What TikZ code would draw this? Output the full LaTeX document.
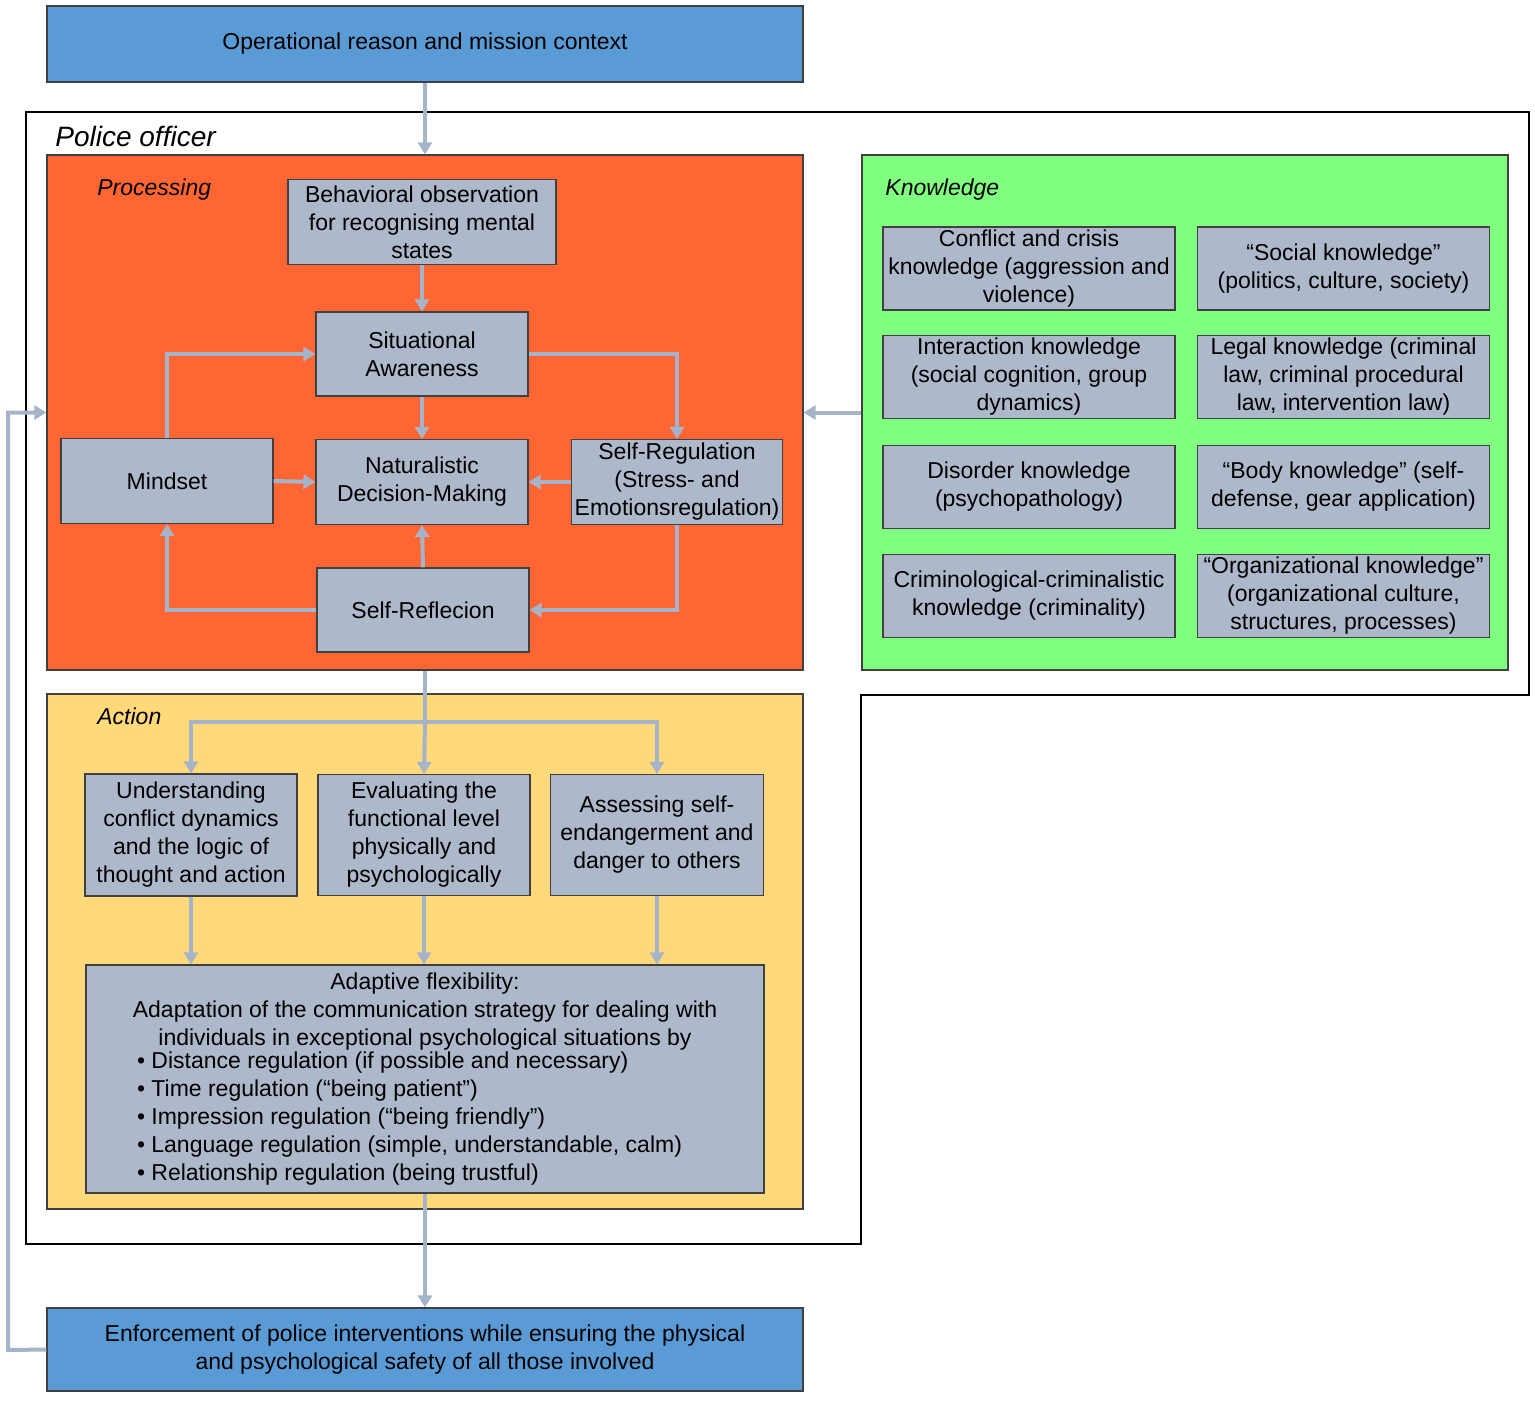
\documentclass[tikz,border=0pt]{standalone}
\usepackage{fontspec}
\setmainfont{Liberation Sans}
\usetikzlibrary{arrows.meta}
\definecolor{bluebox}{HTML}{5B9BD5}
\definecolor{procbg}{HTML}{FF6633}
\definecolor{knowbg}{HTML}{80FF80}
\definecolor{actbg}{HTML}{FFD97A}
\definecolor{greybox}{HTML}{ADB9CA}
\definecolor{arrowc}{HTML}{A6B4C9}
\definecolor{edge}{HTML}{404040}
\begin{document}
\begin{tikzpicture}[x=0.5pt,y=-0.5pt,
  every node/.style={font=\fontsize{11.5}{14}\selectfont, align=center, inner sep=0pt},
  box/.style={draw=edge, line width=0.6pt, fill=greybox},
  area/.style={draw=edge, line width=0.6pt},
  lab/.style={anchor=west, font=\fontsize{11.5}{14}\selectfont\itshape},
  arr/.style={draw=arrowc, line width=2pt, -{Triangle[length=6pt,width=7pt]}},
  ln/.style={draw=arrowc, line width=2pt}]
\useasboundingbox (0,0) rectangle (1535,1401);
% outer officer frame
\draw[line width=0.9pt] (26,112) -- (1529,112) -- (1529,695) -- (861,695) -- (861,1244) -- (26,1244) -- cycle;
\node[anchor=west, font=\fontsize{14}{16}\selectfont\itshape] (po) at (55,136) {Police officer};
% blue boxes
\node[area, fill=bluebox, minimum width=378pt, minimum height=38pt] (top) at (425,44) {Operational reason and mission context};
\node[area, fill=bluebox, minimum width=378pt, minimum height=41.5pt] (bot) at (425,1349.5) {Enforcement of police interventions while ensuring the physical\\and psychological safety of all those involved};
% areas
\node[area, fill=procbg, minimum width=378pt, minimum height=257.5pt] (proc) at (425,412.5) {};
\node[area, fill=knowbg, minimum width=323pt, minimum height=257.5pt] (know) at (1185,412.5) {};
\node[area, fill=actbg, minimum width=378pt, minimum height=257.5pt] (act) at (425,951.5) {};
\node[lab] (lproc) at (97,190) {Processing};
\node[lab] (lknow) at (885,190) {Knowledge};
\node[lab] (lact) at (97,716) {Action};
% processing
\node[box, minimum width=134pt, minimum height=42.5pt] (beh) at (422,222) {Behavioral observation\\for recognising mental\\states};
\node[box, minimum width=106pt, minimum height=42pt] (sit) at (422,354) {Situational\\Awareness};
\node[box, minimum width=106pt, minimum height=42.5pt] (mind) at (167,481) {Mindset};
\node[box, minimum width=106pt, minimum height=42.5pt] (ndm) at (422,482) {Naturalistic\\Decision-Making};
\node[box, minimum width=105.5pt, minimum height=42.5pt] (sreg) at (677,482) {Self-Regulation\\(Stress- and\\Emotionsregulation)};
\node[box, minimum width=106pt, minimum height=42pt] (sref) at (423,610) {Self-Reflecion};
% knowledge
\tikzset{kb/.style={box, minimum width=146pt, minimum height=41.5pt}}
\node[kb] (k1) at (1029,268.5) {Conflict and crisis\\knowledge (aggression and\\violence)};
\node[kb] (k2) at (1343.5,268.5) {“Social knowledge”\\(politics, culture, society)};
\node[kb] (k3) at (1029,377) {Interaction knowledge\\(social cognition, group\\dynamics)};
\node[kb] (k4) at (1343.5,377) {Legal knowledge (criminal\\law, criminal procedural\\law, intervention law)};
\node[kb] (k5) at (1029,487) {Disorder knowledge\\(psychopathology)};
\node[kb] (k6) at (1343.5,487) {“Body knowledge” (self-\\defense, gear application)};
\node[kb] (k7) at (1029,596) {Criminological-criminalistic\\knowledge (criminality)};
\node[kb] (k8) at (1343.5,596) {“Organizational knowledge”\\(organizational culture,\\structures, processes)};
% action
\node[box, minimum width=106pt, minimum height=61pt] (a1) at (191,835) {Understanding\\conflict dynamics\\and the logic of\\thought and action};
\node[box, minimum width=106pt, minimum height=60.5pt] (a2) at (424,835) {Evaluating the\\functional level\\physically and\\psychologically};
\node[box, minimum width=106.5pt, minimum height=60.5pt] (a3) at (657,835) {Assessing self-\\endangerment and\\danger to others};
\node[box, minimum width=339pt, minimum height=114pt] (ad) at (425,1079) {Adaptive flexibility:\\Adaptation of the communication strategy for dealing with\\individuals in exceptional psychological situations by\\
\parbox{288pt}{\raggedright
\textbullet\ Distance regulation (if possible and necessary)\\
\textbullet\ Time regulation (“being patient”)\\
\textbullet\ Impression regulation (“being friendly”)\\
\textbullet\ Language regulation (simple, understandable, calm)\\
\textbullet\ Relationship regulation (being trustful)}};
% connectors
\draw[arr] (top.south) -- (proc.north);
\draw[arr] (beh.south) -- (sit.north);
\draw[arr] (sit.south) -- (ndm.north);
\draw[arr] (mind.east) -- (ndm.west);
\draw[arr] (sreg.west) -- (ndm.east);
\draw[arr] (sref.north) -- (ndm.south);
\draw[arr] (mind.north) |- (sit.west);
\draw[arr] (sit.east) -| (sreg.north);
\draw[arr] (sreg.south) |- (sref.east);
\draw[arr] (sref.west) -| (mind.south);
\draw[arr] (know.west) -- (proc.east);
\coordinate (br) at (425,722);
\draw[ln] (proc.south) -- (br);
\draw[arr] (br) -| (a1.north);
\draw[arr] (br) -| (a3.north);
\draw[arr] (br) -- (a2.north);
\draw[arr] (a1.south) -- (a1.south |- ad.north);
\draw[arr] (a2.south) -- (a2.south |- ad.north);
\draw[arr] (a3.south) -- (a3.south |- ad.north);
\draw[arr] (ad.south) -- (bot.north);
\coordinate (lft) at (8,1350);
\draw[arr] (bot.west) -- (lft) |- (proc.west);
\end{tikzpicture}
\end{document}
